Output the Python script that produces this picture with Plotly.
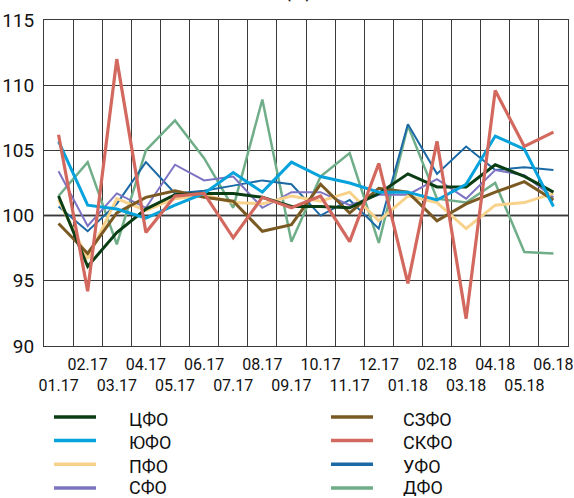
import plotly.graph_objects as go

months = ["01.17", "02.17", "03.17", "04.17", "05.17", "06.17", "07.17", "08.17", "09.17",
          "10.17", "11.17", "12.17", "01.18", "02.18", "03.18", "04.18", "05.18", "06.18"]

cfo = [101.5, 96.1, 98.7, 100.5, 101.6, 101.7, 101.7, 101.4, 100.7, 100.7, 100.6, 101.7, 103.2, 102.2, 102.2, 103.9, 103.0, 101.8]
yufo = [105.7, 100.8, 100.5, 99.8, 100.8, 101.7, 103.3, 101.8, 104.1, 103.0, 102.5, 101.8, 101.8, 101.2, 102.4, 106.1, 105.1, 100.7]
pfo = [101.2, 96.7, 101.3, 100.4, 101.3, 101.6, 101.0, 100.9, 101.5, 101.1, 101.8, 99.6, 101.5, 101.0, 99.0, 100.8, 101.0, 101.7]
sfo = [103.4, 99.2, 101.7, 100.6, 103.9, 102.7, 103.0, 100.6, 101.8, 101.8, 100.8, 101.6, 101.6, 102.8, 101.3, 103.5, 103.1, 101.4]
szfo = [99.4, 97.1, 100.2, 101.4, 101.9, 101.4, 101.1, 98.8, 99.3, 102.4, 100.2, 102.1, 101.8, 99.6, 100.9, 101.8, 102.6, 101.2]
skfo = [106.2, 94.2, 112.0, 98.7, 101.5, 101.7, 98.3, 101.4, 100.6, 101.5, 98.0, 104.0, 94.8, 105.7, 92.1, 109.6, 105.3, 106.4]
ufo = [100.7, 98.8, 100.9, 104.1, 101.7, 101.9, 102.3, 102.7, 102.4, 100.0, 101.2, 99.0, 107.0, 103.2, 105.3, 103.5, 103.7, 103.5]
dfo = [101.5, 104.1, 97.8, 105.0, 107.3, 104.4, 100.6, 108.9, 98.0, 103.0, 104.8, 97.9, 106.9, 101.3, 101.0, 102.5, 97.2, 97.1]

tick_text = [("<br>" + m) if i % 2 == 0 else m for i, m in enumerate(months)]
y_ticks = [90, 95, 100, 105, 110, 115]

FONT = "Roboto, Liberation Sans, sans-serif"

# name, data, color, width, legend column, legend row
series = [
    ("ЦФО", cfo, "#0b3d14", 3, 0, 0),
    ("ЮФО", yufo, "#05a2dc", 3, 0, 1),
    ("ПФО", pfo, "#f8d28a", 3, 0, 2),
    ("СФО", sfo, "#7c74c2", 2, 0, 3),
    ("СЗФО", szfo, "#7a5a22", 3, 1, 0),
    ("СКФО", skfo, "#d2685e", 3.2, 1, 1),
    ("УФО", ufo, "#1b6aa6", 2, 1, 2),
    ("ДФО", dfo, "#6fae88", 2.5, 1, 3),
]
draw_order = ["ДФО", "УФО", "СФО", "ПФО", "СЗФО", "ЦФО", "ЮФО", "СКФО"]

fig = go.Figure()
lookup = {s[0]: s for s in series}
for nm in draw_order:
    name, vals, col, w, _, _ = lookup[nm]
    fig.add_trace(go.Scatter(x=months, y=vals, mode="lines", name=name,
                             line=dict(color=col, width=w), showlegend=False,
                             hoverinfo="skip"))

# plot area in pixels
L, R, T, B = 44, 568, 20, 346
W, H = R - L, B - T

def px(xp):
    return (xp - L) / W

def py(yp):
    return (B - yp) / H

shapes = [dict(type="line", xref="paper", yref="y", x0=0, x1=1, y0=100, y1=100,
               line=dict(color="#8a8a8a", width=2.5), layer="between")]
annotations = []
row_y = [417, 440.5, 464.2, 488]
text_y = [418.5, 442, 465.7, 487]
col_line = [(54, 96), (331, 373)]
col_text = [128, 402]
for name, vals, col, w, c, r in series:
    shapes.append(dict(type="line", xref="paper", yref="paper",
                       x0=px(col_line[c][0]), x1=px(col_line[c][1]),
                       y0=py(row_y[r]), y1=py(row_y[r]),
                       line=dict(color=col, width=3.5)))
    annotations.append(dict(xref="paper", yref="paper", x=px(col_text[c]), y=py(text_y[r]),
                            text=name, showarrow=False, xanchor="left", yanchor="middle",
                            height=18, valign="middle", borderpad=0,
                            font=dict(family=FONT, size=18, color="#111")))

annotations.append(dict(xref="paper", yref="paper", x=px(298), y=py(4), text="(%)",
                        showarrow=False, xanchor="center", yanchor="bottom",
                        font=dict(family=FONT, size=20, color="#111")))

fig.update_layout(
    width=574, height=498,
    margin=dict(l=L, r=574 - R, t=T, b=498 - B),
    paper_bgcolor="white", plot_bgcolor="white",
    font=dict(family=FONT, color="#111"),
    shapes=shapes, annotations=annotations,
    showlegend=False,
)
fig.update_xaxes(
    type="category", tickvals=months, ticktext=tick_text, tickson="boundaries",
    showgrid=True, gridcolor="#3a3a3a", gridwidth=1,
    showline=True, linecolor="#3a3a3a", linewidth=1, mirror=True,
    ticks="", tickfont=dict(family=FONT, size=16, color="#111"), tickangle=0,
    range=[-0.5, 17.5], ticklabelstandoff=4, automargin=False,
)
fig.update_yaxes(
    range=[90, 115], tickvals=y_ticks, ticktext=[str(v) for v in y_ticks],
    showgrid=True, gridcolor="#3a3a3a", gridwidth=1,
    showline=True, linecolor="#3a3a3a", linewidth=1, mirror=True,
    ticks="", tickfont=dict(family=FONT, size=19, color="#111"),
    zeroline=False, ticklabelstandoff=5, automargin=False,
)

fig.write_html("out.html", config={"displayModeBar": False},
               post_script="document.body.style.margin='0';document.body.style.overflow='hidden';")
